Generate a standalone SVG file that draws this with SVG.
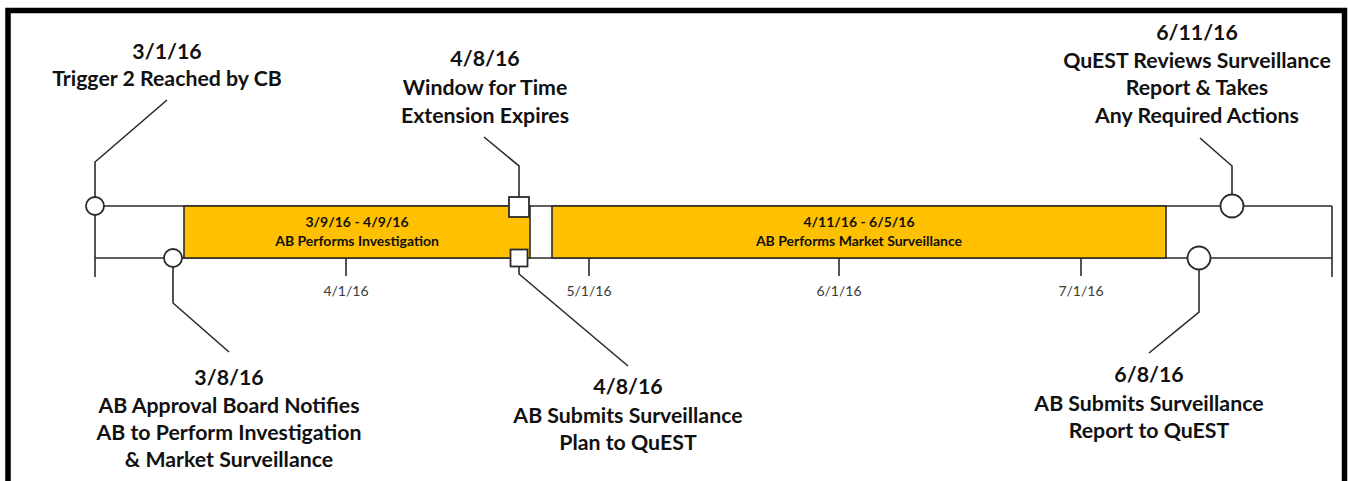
<svg xmlns="http://www.w3.org/2000/svg" width="1348" height="481" viewBox="0 0 1348 481">
<style>
.lbl{font-family:Lato,"Open Sans",sans-serif;font-weight:bold;font-size:21.3px;fill:#111;text-anchor:middle}
.bar{fill:#FFC000;stroke:#2b2b2b;stroke-width:1.6}
.bt{font-family:Lato,"Open Sans",sans-serif;font-weight:bold;font-size:14px;fill:#111;text-anchor:middle}
.tk{font-family:Lato,"Open Sans",sans-serif;font-size:14px;fill:#3a3a3a;text-anchor:middle}
.ln{fill:none;stroke:#2b2b2b;stroke-width:1.6}
.mk{fill:#fff;stroke:#2b2b2b;stroke-width:1.8}
</style>
<rect width="1348" height="481" fill="#fff"/>
<path d="M8,483 V10.5 H1344.5 V483" fill="none" stroke="#000" stroke-width="5.5"/>

<g id="timeline">
  <path class="ln" d="M95,206 H1332 M95,258 H1332 M95,206 V277 M1332,206 V277"/>
  <path class="ln" d="M346,258 V276 M589,258 V276 M839,258 V276 M1081,258 V276"/>
  <text class="tk" x="346" y="296">4/1/16</text>
  <text class="tk" x="589" y="296">5/1/16</text>
  <text class="tk" x="839" y="296">6/1/16</text>
  <text class="tk" x="1081" y="296">7/1/16</text>
</g>

<g id="bar-investigation">
  <rect class="bar" x="184" y="206" width="346" height="52"/>
  <text class="bt" x="357" y="227">3/9/16 - 4/9/16</text>
  <text class="bt" x="357" y="246">AB Performs Investigation</text>
</g>
<g id="bar-surveillance">
  <rect class="bar" x="552" y="206" width="614" height="52"/>
  <text class="bt" x="859" y="227">4/11/16 - 6/5/16</text>
  <text class="bt" x="859" y="246">AB Performs Market Surveillance</text>
</g>

<g id="connectors">
  <path class="ln" d="M95,197 V162 L167,100"/>
  <path class="ln" d="M173,267 V303 L229,352"/>
  <path class="ln" d="M519,197 V166 L484,137"/>
  <path class="ln" d="M519,267 V274 L628,366"/>
  <path class="ln" d="M1232,194.5 V166 L1200,138"/>
  <path class="ln" d="M1199,269.5 V312 L1149,353"/>
</g>

<g id="m-3-1-16"><circle class="mk" cx="95" cy="206" r="9"/>
  <text class="lbl" x="167" y="59">3/1/16</text>
  <text class="lbl" x="167" y="86">Trigger 2 Reached by CB</text></g>
<g id="m-3-8-16"><circle class="mk" cx="173" cy="258" r="9"/>
  <text class="lbl" x="229" y="385">3/8/16</text>
  <text class="lbl" x="229" y="413">AB Approval Board Notifies</text>
  <text class="lbl" x="229" y="440">AB to Perform Investigation</text>
  <text class="lbl" x="229" y="467">&amp; Market Surveillance</text></g>
<g id="m-4-8-16-window"><rect class="mk" x="509" y="197" width="20" height="20"/>
  <text class="lbl" x="485" y="66">4/8/16</text>
  <text class="lbl" x="485" y="95">Window for Time</text>
  <text class="lbl" x="485" y="122.5">Extension Expires</text></g>
<g id="m-4-8-16-plan"><rect class="mk" x="510.5" y="249.5" width="17" height="17"/>
  <text class="lbl" x="628" y="394">4/8/16</text>
  <text class="lbl" x="628" y="423">AB Submits Surveillance</text>
  <text class="lbl" x="628" y="450">Plan to QuEST</text></g>
<g id="m-6-8-16"><circle class="mk" cx="1199" cy="258" r="11.5"/>
  <text class="lbl" x="1149" y="382">6/8/16</text>
  <text class="lbl" x="1149" y="411">AB Submits Surveillance</text>
  <text class="lbl" x="1149" y="437.5">Report to QuEST</text></g>
<g id="m-6-11-16"><circle class="mk" cx="1232" cy="206" r="11.5"/>
  <text class="lbl" x="1197" y="40">6/11/16</text>
  <text class="lbl" x="1197" y="68">QuEST Reviews Surveillance</text>
  <text class="lbl" x="1197" y="95">Report &amp; Takes</text>
  <text class="lbl" x="1197" y="122.5">Any Required Actions</text></g>
</svg>
